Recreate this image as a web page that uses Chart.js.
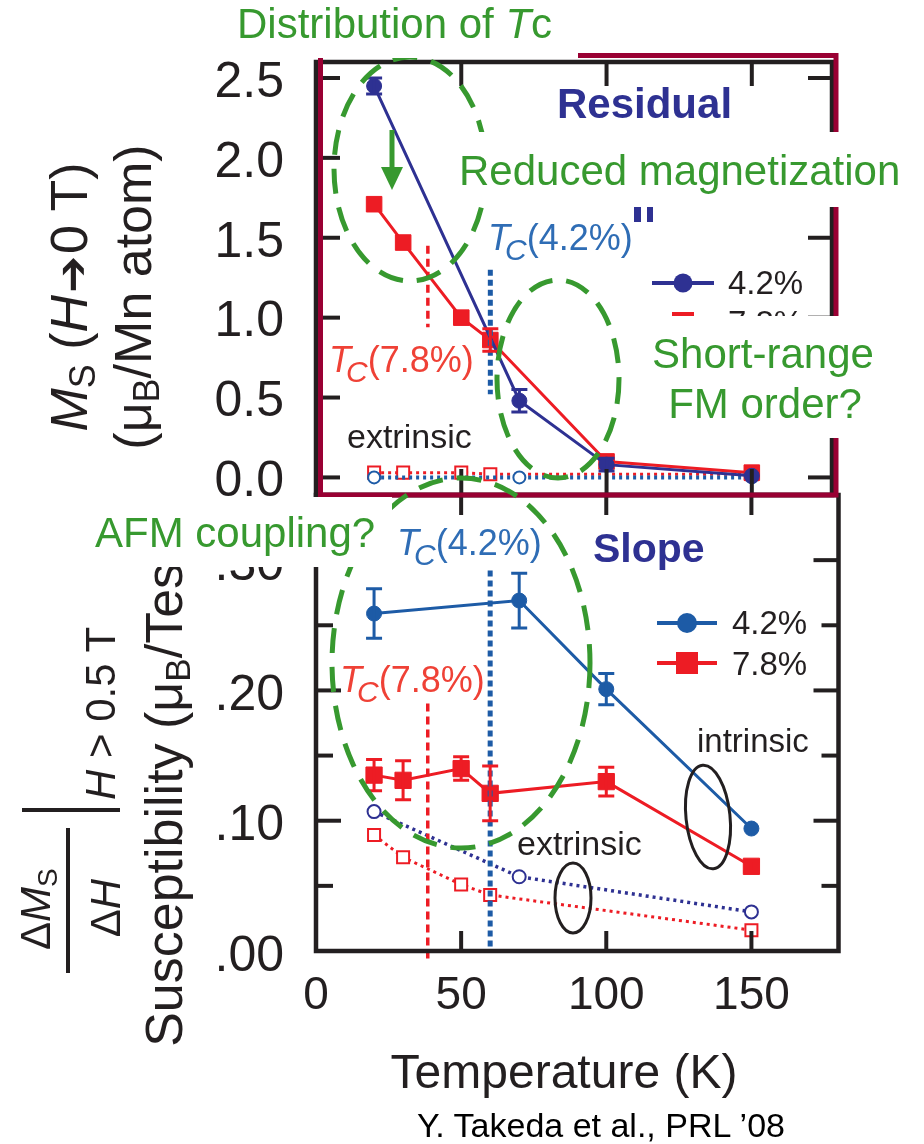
<!DOCTYPE html>
<html><head><meta charset="utf-8">
<script src="https://cdn.jsdelivr.net/npm/chart.js@4.4.1/dist/chart.umd.min.js"></script>
<style>
html,body{margin:0;padding:0;background:#fff;}
#wrap{position:relative;width:924px;height:1144px;overflow:hidden;font-family:"Liberation Sans",Arial,sans-serif;}
canvas{position:absolute;left:0;top:0;}
svg{position:absolute;left:0;top:0;}
</style></head><body>
<div id="wrap">
<canvas id="topChart" width="924" height="1144"></canvas>
<canvas id="botChart" width="924" height="1144"></canvas>
<svg id="ov" width="924" height="1144" xmlns="http://www.w3.org/2000/svg" font-family="Liberation Sans, Arial, sans-serif">
  <!-- maroon frame around residual panel -->
  <path d="M320.5,55.5 H836 V495 H320.5 Z" fill="none" stroke="#990033" stroke-width="5"/>
  <!-- navy remnant marks -->
  <rect x="634" y="207" width="7" height="15" fill="#2e3192"/>
  <rect x="647" y="207" width="6" height="15" fill="#2e3192"/>
  <!-- green dashed ellipses -->
  <g fill="none" stroke="#37992f" stroke-width="5" stroke-dasharray="25 14">
    <ellipse cx="410" cy="169" rx="76" ry="112"/>
    <ellipse cx="558" cy="379" rx="61" ry="99"/>
    <ellipse cx="461" cy="663" rx="129" ry="185"/>
  </g>
  <!-- green arrow -->
  <line x1="392" y1="130" x2="392" y2="172" stroke="#37992f" stroke-width="5"/>
  <polygon points="381,167 403,167 392,190" fill="#37992f"/>
  <!-- black ellipses -->
  <g fill="none" stroke="#231f20" stroke-width="3">
    <ellipse cx="708" cy="817" rx="22" ry="52" transform="rotate(-6 708 817)"/>
    <ellipse cx="573" cy="898" rx="18" ry="35"/>
  </g>
  <!-- legends -->
  <g font-size="33" fill="#231f20">
    <line x1="652" y1="283" x2="714" y2="283" stroke="#2e3192" stroke-width="4"/>
    <circle cx="683" cy="283" r="9.5" fill="#2e3192"/>
    <text x="728" y="294">4.2%</text>
    <line x1="652" y1="323" x2="714" y2="323" stroke="#ed1c24" stroke-width="4"/>
    <rect x="672" y="312" width="22" height="22" fill="#ed1c24"/>
    <text x="728" y="334">7.8%</text>
    <line x1="657" y1="623" x2="717" y2="623" stroke="#1d5ba6" stroke-width="4"/>
    <circle cx="687" cy="623" r="10" fill="#1d5ba6"/>
    <text x="732" y="634">4.2%</text>
    <line x1="657" y1="663" x2="717" y2="663" stroke="#ed1c24" stroke-width="4"/>
    <rect x="676" y="652" width="22" height="22" fill="#ed1c24"/>
    <text x="732" y="675">7.8%</text>
  </g>
  <!-- y axis titles -->
  <g fill="#231f20">
    <text transform="translate(87,297) rotate(-90)" text-anchor="middle" font-size="52"><tspan font-style="italic">M</tspan><tspan font-size="36" dy="8">S</tspan><tspan dy="-8"> (</tspan><tspan font-style="italic">H</tspan><tspan font-family="DejaVu Sans" font-size="44" dx="2">➔</tspan><tspan dx="2">0 T)</tspan></text>
    <text transform="translate(151,297) rotate(-90)" text-anchor="middle" font-size="52">(μ<tspan font-size="36" dy="8">B</tspan><tspan dy="-8">/Mn atom)</tspan></text>
    <text transform="translate(182,776) rotate(-90)" text-anchor="middle" font-size="52">Susceptibility (μ<tspan font-size="35" dy="8">B</tspan><tspan dy="-8">/Tesla)</tspan></text>
    <text transform="translate(50,950) rotate(-90)" font-size="42">Δ<tspan font-style="italic">M</tspan><tspan font-size="28" dy="7">S</tspan></text>
    <text transform="translate(120,908) rotate(-90)" text-anchor="middle" font-size="42">Δ<tspan font-style="italic">H</tspan></text>
    <text transform="translate(115,800) rotate(-90)" font-size="42"><tspan font-style="italic">H</tspan> &gt; 0.5 T</text>
  </g>
  <line x1="68" y1="828" x2="68" y2="973" stroke="#231f20" stroke-width="4"/>
  <line x1="22" y1="810" x2="120" y2="810" stroke="#231f20" stroke-width="4"/>
  <!-- white boxes -->
  <g fill="#fff">
    <rect x="180" y="0" width="398" height="58"/>
    <rect x="452" y="132" width="462" height="75"/>
    <rect x="640" y="316" width="278" height="122"/>
    <rect x="82" y="497" width="310" height="70"/>
  </g>
  <!-- green annotations -->
  <g fill="#37992f" font-size="42">
    <text x="237" y="38">Distribution of <tspan font-style="italic">T</tspan>c</text>
    <text x="459" y="185">Reduced magnetization</text>
    <text x="763" y="368" text-anchor="middle">Short-range</text>
    <text x="765" y="418" text-anchor="middle">FM order?</text>
    <text x="95" y="547">AFM coupling?</text>
  </g>
  <!-- panel titles -->
  <text x="557" y="118" font-size="42" font-weight="bold" fill="#2e3192">Residual</text>
  <text x="593" y="562" font-size="41" font-weight="bold" fill="#2e3192">Slope</text>
  <!-- extrinsic / intrinsic -->
  <g fill="#231f20">
    <text x="347" y="448" font-size="34">extrinsic</text>
    <text x="517" y="855" font-size="34">extrinsic</text>
    <text x="697" y="752" font-size="33">intrinsic</text>
  </g>
  <!-- Tc labels -->
  <g font-size="36">
    <text x="488" y="250" fill="#2f6db5"><tspan font-style="italic">T</tspan><tspan font-style="italic" font-size="30" dx="-5" dy="10">C</tspan><tspan dy="-10">(4.2%)</tspan></text>
    <text x="397" y="555" fill="#2f6db5"><tspan font-style="italic">T</tspan><tspan font-style="italic" font-size="30" dx="-5" dy="10">C</tspan><tspan dy="-10">(4.2%)</tspan></text>
    <text x="329" y="372" fill="#ef4136"><tspan font-style="italic">T</tspan><tspan font-style="italic" font-size="30" dx="-5" dy="10">C</tspan><tspan dy="-10">(7.8%)</tspan></text>
    <text x="340" y="692" fill="#ef4136"><tspan font-style="italic">T</tspan><tspan font-style="italic" font-size="30" dx="-5" dy="10">C</tspan><tspan dy="-10">(7.8%)</tspan></text>
  </g>
  <!-- x title & credit -->
  <text x="564" y="1088" text-anchor="middle" font-size="48" fill="#231f20">Temperature (K)</text>
  <text x="417" y="1137" font-size="34" fill="#000">Y. Takeda et al., PRL ’08</text>
</svg>
</div>
<script>
// ---------- DATA ----------
// Residual magnetization M_S(H->0) (top panel)
const topT42 = [20, 70, 100, 150];
const topMs42 = [2.45, 0.48, 0.08, 0.01];
const topMs42Err = [0.05, 0.07, 0.04, 0];
const topT78 = [20, 30, 50, 60, 100, 150];
const topMs78 = [1.71, 1.47, 1.00, 0.86, 0.10, 0.03];
const topMs78Err = [0, 0, 0, 0.07, 0, 0];
const topExtT42 = [20, 70, 150];
const topExt42 = [0.0, 0.0, 0.0];
const topExtT78 = [20, 30, 50, 60, 150];
const topExt78 = [0.03, 0.03, 0.03, 0.02, 0.02];
// Slope / susceptibility (bottom panel)
const botT42 = [20, 70, 100, 150];
const slope42 = [0.259, 0.269, 0.201, 0.094];
const slope42Err = [0.019, 0.021, 0.012, 0];
const botT78 = [20, 30, 50, 60, 100, 150];
const slope78 = [0.135, 0.131, 0.140, 0.121, 0.130, 0.065];
const slope78Err = [0.012, 0.015, 0.009, 0.021, 0.011, 0.004];
const botExtT42 = [20, 70, 150];
const extSlope42 = [0.107, 0.057, 0.030];
const botExtT78 = [20, 30, 50, 60, 150];
const extSlope78 = [0.089, 0.072, 0.051, 0.043, 0.016];
// Tc markers
const tcTemps = [38.5, 60];           // 7.8%, 4.2%
const tcTopRange = [[0.94, 1.45], [0.52, 1.30]];
const tcBotRange = [[-0.007, 0.19], [0, 0.292]];
// ticks
const xTickVals = [0, 50, 100, 150];
const xTickLabels = ['0', '50', '100', '150'];
const topYTicks = [0, 0.5, 1.0, 1.5, 2.0, 2.5];
const topYLabels = ['0.0', '0.5', '1.0', '1.5', '2.0', '2.5'];
const botYTicks = [0, 0.1, 0.2, 0.3];
const botYLabels = ['.00', '.10', '.20', '.30'];
const botYMinor = [0.05, 0.15, 0.25];

// ---------- STYLE ----------
const NAVY = '#2e3192', BLUE = '#1d5ba6', RED = '#ed1c24', INK = '#231f20';
const FAM = '"Liberation Sans", Arial, sans-serif';
const pts = (xs, ys) => xs.map((x, i) => ({x: x, y: ys[i]}));

function errorBarPlugin() {
  return { id: 'errbars', afterDatasetsDraw(chart) {
    const ctx = chart.ctx, ys = chart.scales.y;
    chart.data.datasets.forEach((ds, di) => {
      if (!ds.errors) return;
      const meta = chart.getDatasetMeta(di);
      ctx.save(); ctx.strokeStyle = ds.borderColor; ctx.lineWidth = 3;
      meta.data.forEach((el, i) => {
        const e = ds.errors[i]; if (!e) return;
        const v = ds.data[i].y;
        const y1 = ys.getPixelForValue(v - e), y2 = ys.getPixelForValue(v + e);
        ctx.beginPath();
        ctx.moveTo(el.x, y1); ctx.lineTo(el.x, y2);
        ctx.moveTo(el.x - 8, y1); ctx.lineTo(el.x + 8, y1);
        ctx.moveTo(el.x - 8, y2); ctx.lineTo(el.x + 8, y2);
        ctx.stroke();
      });
      ctx.restore();
    });
  }};
}

function tcPlugin(ranges) {
  return { id: 'tclines', afterDatasetsDraw(chart) {
    const ctx = chart.ctx, xs = chart.scales.x, ys = chart.scales.y;
    const styles = [{c: RED, w: 3.5, d: [8, 5]}, {c: BLUE, w: 5, d: [6, 4]}];
    tcTemps.forEach((t, i) => {
      const s = styles[i], px = xs.getPixelForValue(t);
      ctx.save(); ctx.strokeStyle = s.c; ctx.lineWidth = s.w; ctx.setLineDash(s.d);
      ctx.beginPath();
      ctx.moveTo(px, ys.getPixelForValue(ranges[i][1]));
      ctx.lineTo(px, ys.getPixelForValue(ranges[i][0]));
      ctx.stroke(); ctx.restore();
    });
  }};
}

function framePlugin(cfg) {
  return { id: 'frame', afterDatasetsDraw(chart) {
    const ctx = chart.ctx, a = chart.chartArea, xs = chart.scales.x, ys = chart.scales.y;
    ctx.save(); ctx.strokeStyle = INK; ctx.lineWidth = 4.5;
    ctx.strokeRect(a.left, a.top, a.right - a.left, a.bottom - a.top);
    ctx.lineWidth = 4;
    const seg = (x1, y1, x2, y2) => { ctx.beginPath(); ctx.moveTo(x1, y1); ctx.lineTo(x2, y2); ctx.stroke(); };
    cfg.yMajor.forEach(v => { const p = ys.getPixelForValue(v); seg(a.left, p, a.left + cfg.majLen, p); seg(a.right - cfg.majLen, p, a.right, p); });
    (cfg.yMinor || []).forEach(v => { const p = ys.getPixelForValue(v); seg(a.left, p, a.left + cfg.minLen, p); seg(a.right - cfg.minLen, p, a.right, p); });
    [50, 100, 150].forEach(v => { const p = xs.getPixelForValue(v); seg(p, a.top, p, a.top + cfg.xTopLen); seg(p, a.bottom - cfg.xBotLen, p, a.bottom); });
    ctx.restore();
  }};
}

const yTickFont = {size: 50, family: FAM};

new Chart(document.getElementById('topChart'), {
  type: 'line',
  data: { datasets: [
    {label: '4.2%', data: pts(topT42, topMs42), errors: topMs42Err, borderColor: NAVY, backgroundColor: NAVY, borderWidth: 3, pointStyle: 'circle', pointRadius: 7.5, pointBorderWidth: 1},
    {label: '7.8%', data: pts(topT78, topMs78), errors: topMs78Err, borderColor: RED, backgroundColor: RED, borderWidth: 3, pointStyle: 'rect', pointRadius: 11, pointBorderWidth: 1},
    {label: '4.2% extrinsic', data: pts(topExtT42, topExt42), borderColor: BLUE, backgroundColor: '#fff', borderWidth: 4, borderDash: [3, 4], pointStyle: 'circle', pointRadius: 6, pointBorderWidth: 2},
    {label: '7.8% extrinsic', data: pts(topExtT78, topExt78), borderColor: RED, backgroundColor: '#fff', borderWidth: 3, borderDash: [3, 4], pointStyle: 'rect', pointRadius: 8.5, pointBorderWidth: 2}
  ]},
  options: {
    responsive: false, animation: false, devicePixelRatio: 1,
    layout: {padding: {left: 0, top: 61, right: 92, bottom: 649}},
    plugins: {legend: {display: false}, tooltip: {enabled: false}},
    scales: {
      x: {type: 'linear', display: false, min: 0, max: 177.6},
      y: {type: 'linear', min: -0.11, max: 2.6,
        afterFit(s) { s.width = 316; },
        afterBuildTicks(s) { s.ticks = topYTicks.map(v => ({value: v})); },
        ticks: {autoSkip: false, padding: 32, labelOffset: 5, color: INK, font: yTickFont, callback: (v, i) => topYLabels[i]},
        grid: {display: false, drawTicks: false}, border: {display: false}}
    }
  },
  plugins: [tcPlugin(tcTopRange), errorBarPlugin(), framePlugin({yMajor: topYTicks, majLen: 24, xTopLen: 24, xBotLen: 26})]
});

new Chart(document.getElementById('botChart'), {
  type: 'line',
  data: { datasets: [
    {label: '4.2%', data: pts(botT42, slope42), errors: slope42Err, borderColor: BLUE, backgroundColor: BLUE, borderWidth: 3, pointStyle: 'circle', pointRadius: 7.5, pointBorderWidth: 1},
    {label: '7.8%', data: pts(botT78, slope78), errors: slope78Err, borderColor: RED, backgroundColor: RED, borderWidth: 3, pointStyle: 'rect', pointRadius: 11.5, pointBorderWidth: 1},
    {label: '4.2% extrinsic', data: pts(botExtT42, extSlope42), borderColor: NAVY, backgroundColor: '#fff', borderWidth: 3.5, borderDash: [3, 4], pointStyle: 'circle', pointRadius: 6.5, pointBorderWidth: 2},
    {label: '7.8% extrinsic', data: pts(botExtT78, extSlope78), borderColor: RED, backgroundColor: '#fff', borderWidth: 3, borderDash: [3, 4], pointStyle: 'rect', pointRadius: 8.5, pointBorderWidth: 2}
  ]},
  options: {
    responsive: false, animation: false, devicePixelRatio: 1,
    layout: {padding: {left: 0, top: 495, right: 85.5, bottom: 0}},
    plugins: {legend: {display: false}, tooltip: {enabled: false}},
    scales: {
      x: {type: 'linear', min: 0, max: 180,
        afterFit(s) { s.height = 193; },
        afterBuildTicks(s) { s.ticks = xTickVals.map(v => ({value: v})); },
        ticks: {autoSkip: false, maxRotation: 0, padding: 18, color: INK, font: {size: 46, family: FAM}, callback: (v, i) => xTickLabels[i]},
        grid: {display: false, drawTicks: false}, border: {display: false}},
      y: {type: 'linear', min: 0, max: 0.35,
        afterFit(s) { s.width = 316; },
        afterBuildTicks(s) { s.ticks = botYTicks.map(v => ({value: v})); },
        ticks: {autoSkip: false, padding: 32, labelOffset: 6, color: INK, font: yTickFont, callback: (v, i) => botYLabels[i]},
        grid: {display: false, drawTicks: false}, border: {display: false}}
    }
  },
  plugins: [tcPlugin(tcBotRange), errorBarPlugin(), framePlugin({yMajor: botYTicks, yMinor: botYMinor, majLen: 25, minLen: 17, xTopLen: 20, xBotLen: 20})]
});
</script>
</body></html>
